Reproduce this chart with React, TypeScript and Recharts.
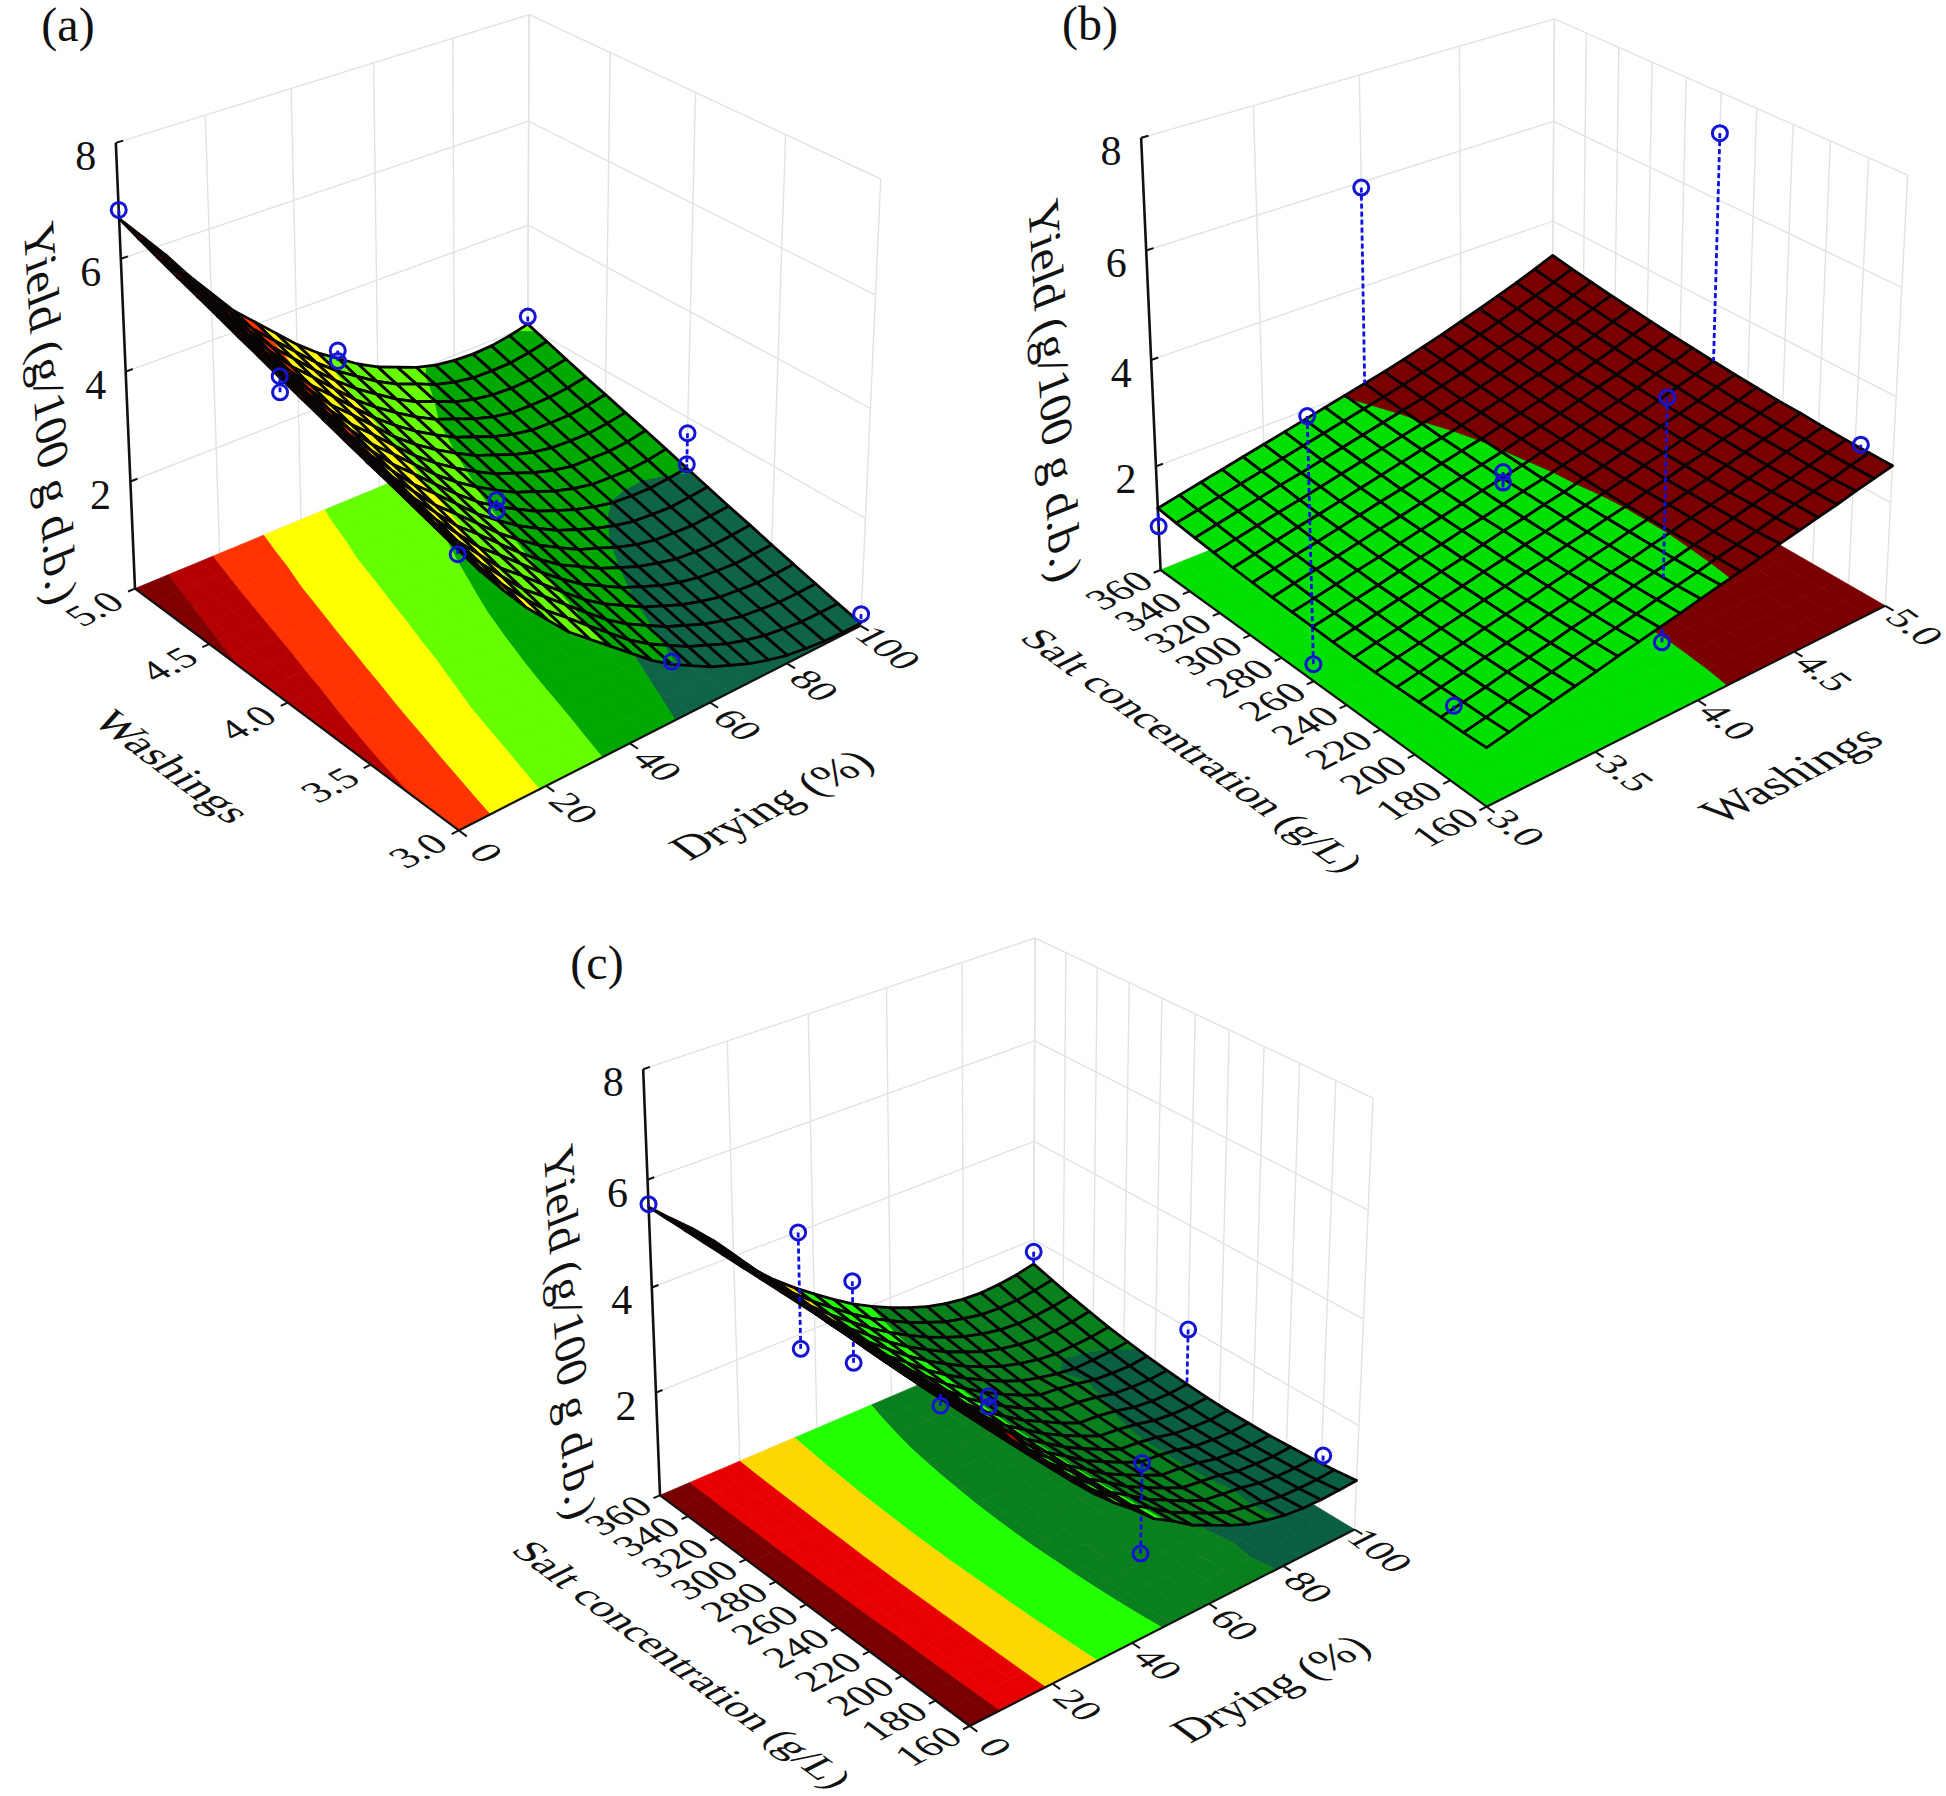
import { ScatterChart, Scatter, XAxis, YAxis } from 'recharts';

const WIDTH = 1946;
const HEIGHT = 1796;

// axis ticks
const DRYING_TICKS = [0, 20, 40, 60, 80, 100];
const WASHINGS_TICKS = [3, 3.5, 4, 4.5, 5];
const SALT_TICKS = [160, 180, 200, 220, 240, 260, 280, 300, 320, 340, 360];
const YIELD_TICKS = [2, 4, 6, 8];

// (a) yield table, rows Washings 3 -> 5, columns Drying 0 -> 100
const YIELD_A = [
  [4.75, 4.20, 3.72, 3.27, 2.88, 2.50, 2.20, 1.90, 1.60, 1.30, 1.05, .85, .65, .50, .35, .24, .15, .10, .06, .05, .05],
  [4.86, 4.32, 3.84, 3.39, 2.99, 2.61, 2.31, 2.00, 1.70, 1.40, 1.15, .95, .75, .60, .45, .34, .25, .20, .16, .16, .16],
  [4.97, 4.44, 3.97, 3.51, 3.11, 2.72, 2.42, 2.11, 1.80, 1.50, 1.25, 1.05, .85, .70, .55, .44, .35, .31, .27, .27, .28],
  [5.09, 4.57, 4.09, 3.63, 3.23, 2.83, 2.53, 2.21, 1.90, 1.60, 1.35, 1.15, .95, .80, .65, .54, .45, .41, .38, .38, .40],
  [5.20, 4.69, 4.22, 3.76, 3.35, 2.95, 2.64, 2.32, 2.00, 1.71, 1.45, 1.25, 1.05, .90, .75, .64, .56, .52, .49, .50, .52],
  [5.32, 4.82, 4.35, 3.88, 3.47, 3.07, 2.76, 2.43, 2.10, 1.81, 1.55, 1.35, 1.15, 1.00, .85, .75, .66, .63, .60, .62, .65],
  [5.44, 4.95, 4.48, 4.01, 3.59, 3.19, 2.87, 2.54, 2.21, 1.92, 1.66, 1.45, 1.25, 1.11, .96, .85, .77, .74, .72, .74, .77],
  [5.56, 5.08, 4.61, 4.14, 3.71, 3.31, 2.99, 2.65, 2.31, 2.03, 1.77, 1.56, 1.36, 1.21, 1.07, .96, .88, .85, .83, .86, .90],
  [5.68, 5.23, 4.74, 4.26, 3.83, 3.43, 3.10, 2.76, 2.43, 2.13, 1.88, 1.67, 1.47, 1.32, 1.18, 1.07, .99, .96, .95, .98, 1.03],
  [5.81, 5.34, 4.87, 4.39, 3.96, 3.55, 3.22, 2.88, 2.54, 2.25, 2.00, 1.78, 1.58, 1.44, 1.29, 1.18, 1.10, 1.08, 1.07, 1.10, 1.16],
  [5.93, 5.47, 5.01, 4.52, 4.08, 3.67, 3.34, 2.99, 2.65, 2.36, 2.11, 1.89, 1.69, 1.55, 1.40, 1.29, 1.21, 1.20, 1.19, 1.22, 1.29],
  [6.06, 5.60, 5.14, 4.65, 4.21, 3.79, 3.46, 3.11, 2.76, 2.47, 2.22, 2.00, 1.80, 1.66, 1.51, 1.40, 1.33, 1.31, 1.31, 1.35, 1.41],
  [6.18, 5.73, 5.27, 4.78, 4.33, 3.92, 3.58, 3.22, 2.88, 2.59, 2.33, 2.11, 1.91, 1.77, 1.62, 1.51, 1.44, 1.43, 1.43, 1.47, 1.54],
  [6.30, 5.86, 5.40, 4.91, 4.46, 4.04, 3.70, 3.34, 2.99, 2.70, 2.45, 2.22, 2.02, 1.88, 1.73, 1.62, 1.55, 1.54, 1.55, 1.59, 1.66],
  [6.43, 5.99, 5.53, 5.04, 4.59, 4.17, 3.82, 3.46, 3.12, 2.82, 2.57, 2.33, 2.13, 1.99, 1.83, 1.73, 1.67, 1.65, 1.67, 1.72, 1.79],
  [6.56, 6.12, 5.66, 5.17, 4.72, 4.28, 3.93, 3.58, 3.23, 2.93, 2.68, 2.44, 2.24, 2.10, 1.94, 1.84, 1.78, 1.77, 1.78, 1.84, 1.92],
  [6.70, 6.25, 5.80, 5.30, 4.85, 4.40, 4.05, 3.70, 3.35, 3.05, 2.80, 2.55, 2.35, 2.20, 2.05, 1.95, 1.90, 1.88, 1.90, 1.96, 2.05],
];

// (b) yield table, rows Salt 160 -> 360, columns Washings 3 -> 5
const YIELD_B = [
  [1.05, 1.13, 1.22, 1.30, 1.38, 1.46, 1.55, 1.63, 1.71, 1.79, 1.88, 1.96, 2.04, 2.12, 2.21, 2.29, 2.37, 2.45, 2.54, 2.62, 2.70],
  [1.03, 1.11, 1.20, 1.28, 1.36, 1.45, 1.53, 1.61, 1.69, 1.78, 1.86, 1.94, 2.03, 2.11, 2.19, 2.28, 2.37, 2.45, 2.53, 2.62, 2.71],
  [1.02, 1.10, 1.18, 1.27, 1.35, 1.43, 1.52, 1.60, 1.68, 1.77, 1.85, 1.93, 2.02, 2.10, 2.19, 2.28, 2.36, 2.45, 2.54, 2.63, 2.72],
  [1.01, 1.09, 1.17, 1.26, 1.34, 1.42, 1.51, 1.59, 1.68, 1.76, 1.84, 1.93, 2.01, 2.11, 2.19, 2.27, 2.37, 2.46, 2.56, 2.65, 2.74],
  [1.00, 1.08, 1.17, 1.25, 1.34, 1.42, 1.50, 1.59, 1.67, 1.76, 1.84, 1.93, 2.01, 2.11, 2.19, 2.28, 2.38, 2.47, 2.57, 2.66, 2.77],
  [.99, 1.08, 1.16, 1.25, 1.33, 1.42, 1.50, 1.59, 1.67, 1.76, 1.84, 1.93, 2.01, 2.11, 2.19, 2.29, 2.38, 2.49, 2.58, 2.69, 2.78],
  [.99, 1.08, 1.16, 1.25, 1.34, 1.42, 1.51, 1.59, 1.68, 1.76, 1.85, 1.93, 2.02, 2.11, 2.21, 2.30, 2.40, 2.50, 2.60, 2.70, 2.81],
  [1.00, 1.08, 1.17, 1.26, 1.34, 1.43, 1.51, 1.60, 1.69, 1.77, 1.86, 1.94, 2.04, 2.12, 2.22, 2.32, 2.42, 2.52, 2.62, 2.74, 2.84],
  [1.01, 1.09, 1.18, 1.26, 1.35, 1.44, 1.52, 1.61, 1.69, 1.78, 1.87, 1.95, 2.05, 2.14, 2.23, 2.34, 2.44, 2.54, 2.66, 2.76, 2.88],
  [1.02, 1.10, 1.19, 1.28, 1.36, 1.45, 1.54, 1.62, 1.71, 1.80, 1.88, 1.97, 2.07, 2.16, 2.26, 2.36, 2.46, 2.57, 2.69, 2.80, 2.92],
  [1.03, 1.12, 1.21, 1.29, 1.38, 1.47, 1.55, 1.64, 1.73, 1.82, 1.90, 1.99, 2.09, 2.18, 2.28, 2.39, 2.50, 2.60, 2.72, 2.84, 2.96],
  [1.05, 1.14, 1.23, 1.31, 1.40, 1.49, 1.58, 1.66, 1.75, 1.84, 1.93, 2.01, 2.11, 2.21, 2.31, 2.42, 2.52, 2.64, 2.76, 2.89, 3.01],
  [1.07, 1.16, 1.25, 1.34, 1.42, 1.51, 1.60, 1.69, 1.78, 1.87, 1.95, 2.04, 2.14, 2.24, 2.35, 2.45, 2.56, 2.68, 2.80, 2.93, 3.06],
  [1.10, 1.19, 1.28, 1.37, 1.45, 1.54, 1.63, 1.72, 1.81, 1.90, 1.99, 2.07, 2.17, 2.27, 2.38, 2.49, 2.61, 2.73, 2.85, 2.98, 3.11],
  [1.13, 1.22, 1.31, 1.40, 1.49, 1.57, 1.66, 1.75, 1.84, 1.93, 2.02, 2.11, 2.21, 2.31, 2.42, 2.54, 2.64, 2.77, 2.90, 3.03, 3.17],
  [1.16, 1.25, 1.34, 1.43, 1.52, 1.61, 1.70, 1.79, 1.88, 1.97, 2.06, 2.15, 2.25, 2.36, 2.47, 2.58, 2.70, 2.83, 2.95, 3.09, 3.23],
  [1.20, 1.29, 1.38, 1.47, 1.56, 1.65, 1.74, 1.83, 1.92, 2.01, 2.10, 2.19, 2.29, 2.40, 2.51, 2.63, 2.75, 2.88, 3.01, 3.15, 3.30],
];

// (c) yield table, rows Salt 160 -> 360, columns Drying 0 -> 100
const YIELD_C = [
  [5.5, 5.15, 4.80, 4.30, 3.85, 3.45, 3.08, 2.75, 2.45, 2.12, 1.90, 1.65, 1.48, 1.30, 1.15, 1.05, .97, .93, .92, .93, .95],
  [5.5, 5.15, 4.79, 4.30, 3.84, 3.44, 3.07, 2.73, 2.43, 2.10, 1.88, 1.63, 1.45, 1.27, 1.11, 1.03, .96, .90, .88, .88, .90],
  [5.5, 5.14, 4.79, 4.30, 3.84, 3.43, 3.06, 2.72, 2.42, 2.09, 1.86, 1.61, 1.43, 1.24, 1.09, 1.03, .98, .90, .86, .85, .87],
  [5.5, 5.14, 4.78, 4.30, 3.84, 3.42, 3.05, 2.71, 2.41, 2.08, 1.85, 1.60, 1.41, 1.23, 1.07, 1.02, .97, .88, .85, .83, .85],
  [5.5, 5.14, 4.78, 4.30, 3.84, 3.42, 3.05, 2.71, 2.40, 2.08, 1.84, 1.59, 1.40, 1.22, 1.06, 1.02, .96, .87, .83, .81, .83],
  [5.5, 5.14, 4.78, 4.30, 3.84, 3.42, 3.05, 2.71, 2.40, 2.08, 1.84, 1.59, 1.40, 1.22, 1.06, 1.02, .96, .87, .83, .81, .83],
  [5.5, 5.13, 4.77, 4.31, 3.84, 3.42, 3.05, 2.71, 2.41, 2.08, 1.84, 1.60, 1.40, 1.22, 1.06, 1.02, .96, .87, .83, .81, .83],
  [5.5, 5.13, 4.77, 4.31, 3.84, 3.42, 3.05, 2.72, 2.41, 2.09, 1.85, 1.61, 1.41, 1.23, 1.07, 1.03, .97, .88, .84, .83, .85],
  [5.5, 5.13, 4.77, 4.32, 3.85, 3.43, 3.06, 2.73, 2.42, 2.11, 1.86, 1.62, 1.43, 1.24, 1.08, 1.05, .99, .90, .86, .85, .88],
  [5.5, 5.13, 4.77, 4.33, 3.86, 3.44, 3.07, 2.74, 2.44, 2.13, 1.88, 1.65, 1.45, 1.27, 1.11, 1.08, 1.02, .93, .90, .89, .92],
  [5.5, 5.13, 4.78, 4.35, 3.88, 3.46, 3.09, 2.76, 2.46, 2.16, 1.91, 1.68, 1.48, 1.30, 1.15, 1.11, 1.05, .97, .94, .93, .97],
  [5.5, 5.13, 4.78, 4.36, 3.89, 3.48, 3.11, 2.78, 2.49, 2.19, 1.94, 1.72, 1.52, 1.34, 1.19, 1.09, 1.01, .96, .97, .99, 1.03],
  [5.5, 5.14, 4.79, 4.38, 3.91, 3.50, 3.13, 2.81, 2.52, 2.23, 1.98, 1.76, 1.56, 1.39, 1.24, 1.14, 1.06, 1.02, 1.03, 1.05, 1.10],
  [5.5, 5.14, 4.79, 4.39, 3.93, 3.52, 3.16, 2.84, 2.55, 2.27, 2.02, 1.81, 1.61, 1.45, 1.30, 1.20, 1.13, 1.09, 1.10, 1.13, 1.19],
  [5.5, 5.14, 4.80, 4.41, 3.95, 3.54, 3.19, 2.87, 2.59, 2.31, 2.07, 1.86, 1.67, 1.51, 1.37, 1.27, 1.20, 1.17, 1.18, 1.22, 1.28],
  [5.5, 5.15, 4.81, 4.43, 3.97, 3.57, 3.22, 2.91, 2.63, 2.36, 2.12, 1.92, 1.73, 1.58, 1.44, 1.35, 1.28, 1.26, 1.27, 1.32, 1.39],
  [5.5, 5.15, 4.82, 4.45, 4.00, 3.60, 3.25, 2.95, 2.68, 2.42, 2.18, 1.98, 1.80, 1.65, 1.52, 1.43, 1.37, 1.35, 1.37, 1.42, 1.50],
];

// measured runs [x factor, y factor, yield]
const POINTS_A = [[0, 5, 6.85], [0, 4, 5.7], [0, 4, 5.43], [50, 5, 2.95], [50, 5, 2.75], [100, 5, 2.2], [100, 4, 1.7], [100, 4, 1.1], [50, 4, 2.0], [50, 4, 1.8], [0, 3, 4.65], [50, 3, 1.1], [100, 3, 0.22]];
const POINTS_B = [[4, 360, 5.9], [5, 260, 7.25], [3, 260, 4.8], [3, 260, 0.32], [4, 180, 5.1], [4, 180, 0.65], [3, 360, 0.85], [5, 177, 2.78], [3.95, 266, 2.2], [3.95, 266, 2.0], [3.05, 184, 1.15]];
const POINTS_C = [[0, 360, 5.55], [0, 260, 6.75], [0, 260, 4.7], [50, 360, 2.63], [50, 360, 1.0], [0, 176, 5.3], [50, 270, 2.05], [50, 270, 1.85], [100, 260, 1.97], [100, 360, 1.75], [50, 178, 2.6], [50, 178, 0.92], [100, 179, 1.05]];

const PANELS = [
  {
    name: '(a)', namePos: [68, 24],
    floor: [[458.8, 830.4], [860.6, 625.8], [527.3, 425.8], [135, 588.6]], topLeft: [113, 142.9], vanish: [490, 8842],
    xDomain: [0, 100], yDomain: [3, 5], table: YIELD_A, points: POINTS_A,
    levels: [1, 2, 3, 4, 5, 6], colors: ['#0f6446', '#00a800', '#66ff00', '#ffff00', '#ff3300', '#b40000', '#800000'],
    xTicks: DRYING_TICKS, yTicks: WASHINGS_TICKS, xFmt: (v) => String(v), yFmt: (v) => v.toFixed(1),
    xTickOff: [28, 22], yTickOff: [-41, 20], xTitle: 'Drying (%)', yTitle: 'Washings',
    xTitleOff: [101, 82], yTitleOff: [-115, 64], xTitleSize: 46, yTitleSize: 45, yieldOff: [-75, 42], yieldSize: 48,
  },
  {
    name: '(b)', namePos: [1090, 23],
    floor: [[1486.6, 806.7], [1885.3, 605.8], [1551.6, 413.4], [1160.6, 570]], topLeft: [1141.1, 137.8], vanish: [1498, 8057],
    xDomain: [3, 5], yDomain: [160, 360], table: YIELD_B, points: POINTS_B,
    levels: [2], colors: ['#00e000', '#7a0000'],
    xTicks: WASHINGS_TICKS, yTicks: SALT_TICKS, xFmt: (v) => v.toFixed(1), yFmt: (v) => String(v),
    xTickOff: [30, 21], yTickOff: [-42, 20], xTitle: 'Washings', yTitle: 'Salt concentration (g/L)',
    xTitleOff: [93, 74], yTitleOff: [-121, 69], xTitleSize: 48, yTitleSize: 42, yieldOff: [-96, 31], yieldSize: 48,
  },
  {
    name: '(c)', namePos: [597, 962],
    floor: [[969.7, 1726], [1354.5, 1529.5], [1033.3, 1335.8], [660, 1495.3]], topLeft: [641, 1069.2], vanish: [994, 9955],
    xDomain: [0, 100], yDomain: [160, 360], table: YIELD_C, points: POINTS_C,
    levels: [1, 2, 3, 4, 5], colors: ['#0a5f40', '#0a7f1e', '#22ff00', '#ffd700', '#e80000', '#7a0000'],
    xTicks: DRYING_TICKS, yTicks: SALT_TICKS, xFmt: (v) => String(v), yFmt: (v) => String(v),
    xTickOff: [26, 21], yTickOff: [-42, 20], xTitle: 'Drying (%)', yTitle: 'Salt concentration (g/L)',
    xTitleOff: [99, 65], yTitleOff: [-124, 60], xTitleSize: 45, yTitleSize: 42, yieldOff: [-82, 45], yieldSize: 47,
  },
];

// unit floor square + height -> picture, one real perspective camera per panel
const makeProjector = (floor, topLeft, vanish) => {
  const [[x0, y0], [x1, y1], [x2, y2], [x3, y3]] = floor;
  const dx1 = x1 - x2, dx2 = x3 - x2, sx = x0 - x1 + x2 - x3;
  const dy1 = y1 - y2, dy2 = y3 - y2, sy = y0 - y1 + y2 - y3;
  const den = dx1 * dy2 - dx2 * dy1;
  const g = (sx * dy2 - dx2 * sy) / den;
  const h = (dx1 * sy - sx * dy1) / den;
  const a = x1 - x0 + g * x1, b = x3 - x0 + h * x3;
  const d = y1 - y0 + g * y1, e = y3 - y0 + h * y3;
  const i = (topLeft[1] * (h + 1) - (e + y0)) / (vanish[1] - topLeft[1]);
  return (u, v, z) => {
    const t = z / 8;
    const w = g * u + h * v + 1 + i * t;
    return { x: (a * u + b * v + x0 + i * vanish[0] * t) / w, y: (d * u + e * v + y0 + i * vanish[1] * t) / w };
  };
};

// keep the part of a polygon on one side of a yield level
const clipLevel = (poly, level, above) => {
  const out = [];
  poly.forEach((p, n) => {
    const q = poly[(n + 1) % poly.length];
    const pIn = above ? p[2] >= level : p[2] <= level;
    const qIn = above ? q[2] >= level : q[2] <= level;
    if (pIn) out.push(p);
    if (pIn !== qIn) {
      const s = (level - p[2]) / (q[2] - p[2]);
      out.push([p[0] + s * (q[0] - p[0]), p[1] + s * (q[1] - p[1]), level]);
    }
  });
  return out;
};

const buildCells = (panel, project, flat) => {
  const { table, levels, colors } = panel;
  const rows = table.length, cols = table[0].length;
  const cells = [];
  for (let k = rows - 2; k >= 0; k--) {
    for (let i = cols - 2; i >= 0; i--) {
      const u0 = i / (cols - 1), u1 = (i + 1) / (cols - 1), v0 = k / (rows - 1), v1 = (k + 1) / (rows - 1);
      const quad = [[u0, v0, table[k][i]], [u1, v0, table[k][i + 1]], [u1, v1, table[k + 1][i + 1]], [u0, v1, table[k + 1][i]]];
      const at = (p) => project(p[0], p[1], flat ? 0 : p[2]);
      const c = at([(u0 + u1) / 2, (v0 + v1) / 2, (quad[0][2] + quad[2][2]) / 2]);
      const toPath = (poly) => poly.map((p, n) => {
        const s = at(p);
        return `${n ? 'L' : 'M'}${(s.x - c.x).toFixed(2)} ${(s.y - c.y).toFixed(2)}`;
      }).join('') + 'Z';
      const pieces = [];
      colors.forEach((color, b) => {
        let poly = quad;
        if (b > 0) poly = clipLevel(poly, levels[b - 1], true);
        if (b < levels.length && poly.length) poly = clipLevel(poly, levels[b], false);
        if (poly.length >= 3) pieces.push({ color, d: toPath(poly) });
      });
      cells.push({ x: c.x, y: c.y, pieces, outline: flat ? null : toPath(quad) });
    }
  }
  return cells;
};

const renderCell = ({ cx, cy, payload }) => (
  <g transform={`translate(${cx} ${cy})`}>
    {payload.pieces.map((p, n) => <path key={n} d={p.d} fill={p.color} stroke={p.color} strokeWidth={0.7} />)}
    {payload.outline && <path d={payload.outline} fill="none" stroke="#0a0505" strokeWidth={2.8} strokeLinejoin="round" />}
  </g>
);

const renderCircle = ({ cx, cy }) => <circle cx={cx} cy={cy} r={7.5} fill="none" stroke="#1414d2" strokeWidth={3} />;

// text lies in the floor or wall plane: its baseline and its up direction come from the projection
const renderLabel = ({ cx, cy, payload }) => {
  const { base, up } = payload;
  return (
    <text
      transform={`matrix(${base[0]} ${base[1]} ${-up[0]} ${-up[1]} ${cx} ${cy})`}
      textAnchor="middle"
      dominantBaseline="central"
      fontFamily="'Liberation Serif', serif"
      fontSize={payload.size}
      fill="#111"
    >
      {payload.text}
    </text>
  );
};

const noDot = () => <g />;

const polyline = (key, pts, stroke, strokeWidth, dash?) => (
  <Scatter
    key={key}
    data={pts}
    line={{ stroke, strokeWidth, strokeDasharray: dash, strokeLinecap: 'butt' }}
    shape={noDot}
    isAnimationActive={false}
  />
);

const unit = (p, q) => {
  const dx = q.x - p.x, dy = q.y - p.y, n = Math.hypot(dx, dy);
  return [dx / n, dy / n];
};

const buildPanel = (panel, pi) => {
  const project = makeProjector(panel.floor, panel.topLeft, panel.vanish);
  const U = (x) => (x - panel.xDomain[0]) / (panel.xDomain[1] - panel.xDomain[0]);
  const V = (y) => (y - panel.yDomain[0]) / (panel.yDomain[1] - panel.yDomain[0]);
  const wall = '#e3e3e3';
  const axis = '#111';
  const back = [];
  // walls behind the surface
  [0, ...YIELD_TICKS].forEach((z) => {
    back.push(polyline(`${pi}wl${z}`, [project(0, 1, z), project(1, 1, z)], wall, 1.4));
    back.push(polyline(`${pi}wr${z}`, [project(1, 1, z), project(1, 0, z)], wall, 1.4));
  });
  panel.xTicks.forEach((t) => back.push(polyline(`${pi}vx${t}`, [project(U(t), 1, 0), project(U(t), 1, 8)], wall, 1.4)));
  panel.yTicks.forEach((t) => back.push(polyline(`${pi}vy${t}`, [project(1, V(t), 0), project(1, V(t), 8)], wall, 1.4)));

  const floorCells = buildCells(panel, project, true);
  const surfaceCells = buildCells(panel, project, false);

  const frame = [
    polyline(`${pi}az`, [project(0, 1, 0), project(0, 1, 8)], axis, 2.6),
    polyline(`${pi}ax`, [project(0, 0, 0), project(1, 0, 0)], axis, 2.2),
    polyline(`${pi}ay`, [project(0, 0, 0), project(0, 1, 0)], axis, 2.2),
  ];
  YIELD_TICKS.forEach((t) => frame.push(polyline(`${pi}tz${t}`, [project(0, 1, t), project(0.016, 1, t)], axis, 2)));
  panel.xTicks.forEach((t) => frame.push(polyline(`${pi}tx${t}`, [project(U(t), 0, 0), project(U(t), -0.022, 0)], axis, 2)));
  panel.yTicks.forEach((t) => frame.push(polyline(`${pi}ty${t}`, [project(0, V(t), 0), project(-0.016, V(t), 0)], axis, 2)));

  const rows = panel.table.length, cols = panel.table[0].length;
  const below = [], above = [];
  panel.points.forEach(([px, py, pz], n) => {
    const u = U(px), v = V(py);
    const surf = panel.table[Math.round(v * (rows - 1))][Math.round(u * (cols - 1))];
    const target = pz > surf - 0.3 ? above : below;
    target.push(polyline(`${pi}d${n}`, [project(u, v, pz), project(u, v, surf)], '#1010e0', 2.8, '5 3'));
    target.push(<Scatter key={`${pi}p${n}`} data={[project(u, v, pz)]} shape={renderCircle} isAnimationActive={false} />);
  });

  const labels = [];
  const alongU = unit(project(0, 0, 0), project(1, 0, 0));
  const alongV = unit(project(0, 0, 0), project(0, 1, 0));
  const fromV = [-alongV[0], -alongV[1]];
  const add = (pt, off, text, base, up, size) => labels.push({ x: pt.x + off[0], y: pt.y + off[1], text, base, up, size });
  const flatUp = [0.95, 0.95];
  const scaled = (d) => [d[0] * flatUp[0], d[1] * flatUp[1]];
  panel.xTicks.forEach((t) => add(project(U(t), 0, 0), panel.xTickOff, panel.xFmt(t), fromV, scaled(alongU), 40));
  panel.yTicks.forEach((t) => add(project(0, V(t), 0), panel.yTickOff, panel.yFmt(t), alongU, scaled(alongV), 40));
  YIELD_TICKS.forEach((t) => add(project(0, 1, t), [-30, 13], String(t), [1, 0], [0, -1], 42));
  add(project(0.5, 0, 0), panel.xTitleOff, panel.xTitle, alongU, scaled(alongV), panel.xTitleSize);
  add(project(0, 0.5, 0), panel.yTitleOff, panel.yTitle, fromV, scaled(alongU), panel.yTitleSize);
  add(project(0, 1, 4), panel.yieldOff, 'Yield (g/100 g d.b.)', [0.06, 1], [0.92, -0.36], panel.yieldSize);
  labels.push({ x: panel.namePos[0], y: panel.namePos[1], text: panel.name, base: [1, 0], up: [0, -1], size: 48 });

  return [
    ...back,
    <Scatter key={`${pi}floor`} data={floorCells} shape={renderCell} isAnimationActive={false} />,
    ...frame,
    ...below,
    <Scatter key={`${pi}mesh`} data={surfaceCells} shape={renderCell} isAnimationActive={false} />,
    ...above,
    <Scatter key={`${pi}text`} data={labels} shape={renderLabel} isAnimationActive={false} />,
  ];
};

export default function App() {
  return (
    <div style={{ position: 'absolute', left: 0, top: 0, width: WIDTH, height: HEIGHT, background: '#fff', overflow: 'hidden' }}>
      <ScatterChart width={WIDTH} height={HEIGHT} margin={{ top: 0, right: 0, bottom: 0, left: 0 }}>
        <XAxis type="number" dataKey="x" domain={[0, WIDTH]} hide allowDataOverflow />
        <YAxis type="number" dataKey="y" domain={[0, HEIGHT]} reversed hide allowDataOverflow />
        {PANELS.flatMap(buildPanel)}
      </ScatterChart>
    </div>
  );
}
